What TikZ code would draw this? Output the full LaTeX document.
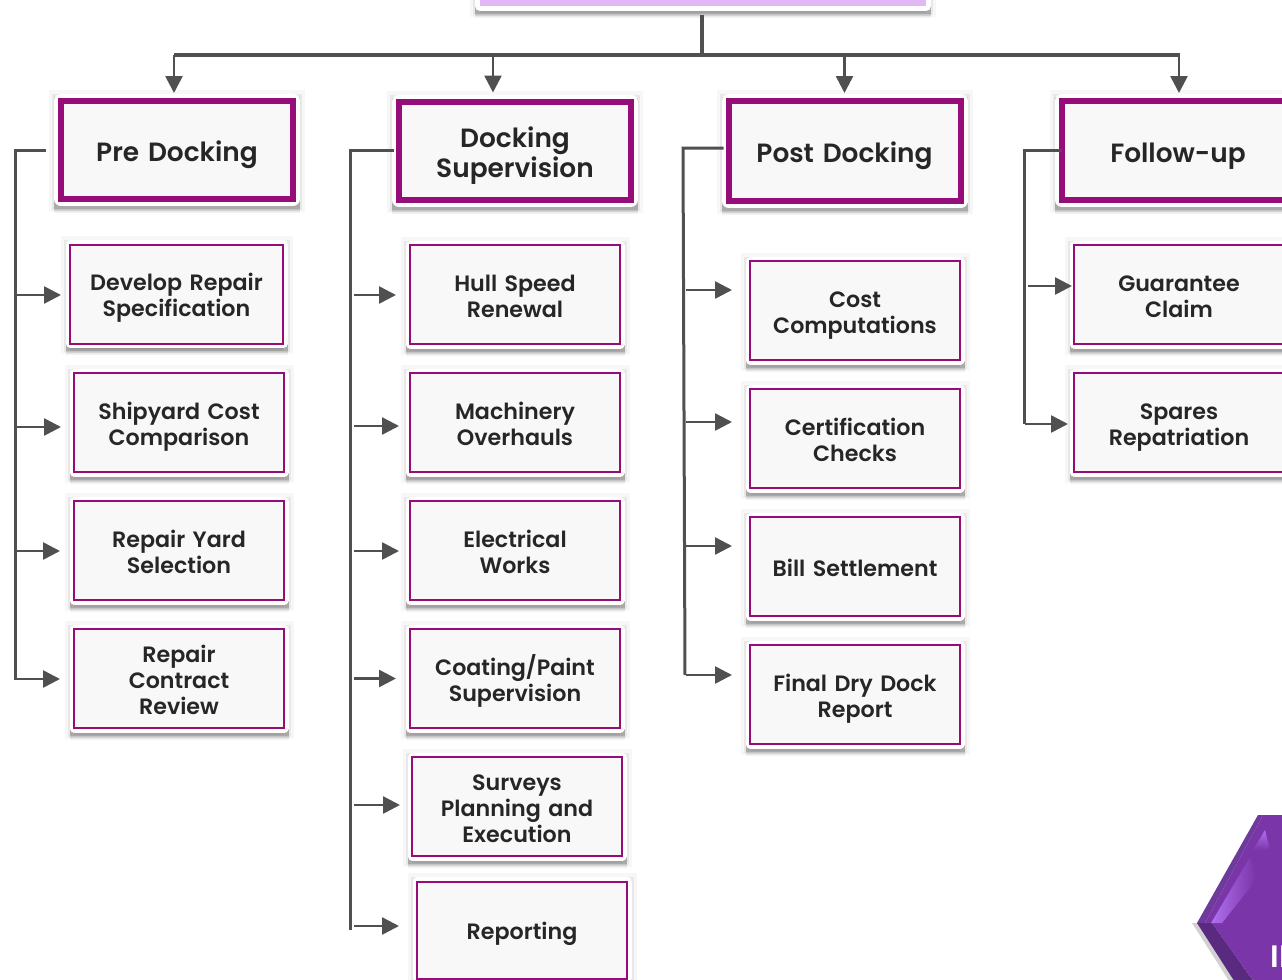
\documentclass[tikz,border=0pt]{standalone}
\usepackage{fontspec}
\setmainfont{Poppins}[BoldFont={Poppins SemiBold}]
\usetikzlibrary{arrows.meta,shadows}
\definecolor{boxpurple}{HTML}{960C78}
\definecolor{boxfill}{HTML}{F8F8F8}
\definecolor{rootfill}{HTML}{E0B8F4}
\definecolor{linegrey}{HTML}{505050}
\definecolor{gemdark}{HTML}{5A2A80}
\definecolor{gemedge}{HTML}{6E3A9C}
\definecolor{gemmain}{HTML}{7A35A8}
\definecolor{gemlight}{HTML}{B070F0}
\tikzset{
    softshadow/.style={
        general shadow={fill=black,draw=black,line width=#1+5,opacity=.03,shadow yshift=-.5pt},
        general shadow={fill=black,draw=black,line width=#1+2,opacity=.06,shadow yshift=-1pt},
        general shadow={fill=black,draw=black,line width=#1,opacity=.14,shadow yshift=-1.5pt},
        general shadow={fill=black,draw=black,line width=#1,opacity=.1,shadow yshift=-2.5pt},
        general shadow={fill=black,draw=black,line width=#1,opacity=.05,shadow yshift=-3.5pt},
        preaction={draw=white,line width=#1,line join=round}
    },
    headbox/.style={softshadow=7,draw=boxpurple,fill=boxfill,line width=3,inner sep=0pt,align=center,
        text width=110pt,text=black!85,font=\fontsize{13.2}{15}\selectfont\bfseries,
        execute at begin node=\rule{0pt}{15pt},execute at end node=\rule[-3pt]{0pt}{3pt}},
    subbox/.style={softshadow=4.5,draw=boxpurple,fill=boxfill,line width=1,inner sep=0pt,align=center,
        text width=100pt,minimum width=105,minimum height=49.5,text=black!85,font=\fontsize{11.1}{13}\selectfont\bfseries,
        execute at begin node=\rule{0pt}{12.5pt},execute at end node=\rule[-3pt]{0pt}{3pt}},
    busline/.style={draw=linegrey,line width=2},
    branch/.style={draw=linegrey,line width=1.5},
    arrowline/.style={draw=linegrey,line width=1.3,-{Triangle[length=8.5,width=8.5]}}
}
\begin{document}
\begin{tikzpicture}[x=0.5pt,y=-0.5pt]
\useasboundingbox[clip] (0,0) rectangle (1282,980);
\node[softshadow=5,fill=rootfill,minimum width=223,minimum height=30,inner sep=0pt] (root) at (703,-24) {};
% column heads
\node[headbox,minimum width=116,minimum height=49] (pre) at (177,150) {Pre Docking};
\node[headbox,minimum width=116,minimum height=49] (dock) at (515,150.5) {Docking\\Supervision};
\node[headbox,minimum width=116,minimum height=50] (post) at (844.5,151) {Post Docking};
\node[headbox,minimum width=116,minimum height=49.5] (follow) at (1178,150.5) {Follow-up};
% pre docking
\node[subbox,minimum width=106.5] (develop) at (176.5,294) {Develop Repair\\Specification};
\node[subbox] (shipyard) at (179,422.5) {Shipyard Cost\\Comparison};
\node[subbox] (yard) at (179,550.5) {Repair Yard\\Selection};
\node[subbox] (contract) at (179,678.5) {Repair\\Contract\\Review};
% docking supervision
\node[subbox] (hull) at (515,294.5) {Hull Speed\\Renewal};
\node[subbox] (machinery) at (515,422.5) {Machinery\\Overhauls};
\node[subbox] (electrical) at (515,550.5) {Electrical\\Works};
\node[subbox] (coating) at (515,678.5) {Coating/Paint\\Supervision};
\node[subbox] (surveys) at (517,806.5) {Surveys\\Planning and\\Execution};
\node[subbox,minimum height=48.5] (reporting) at (522,930) {Reporting};
% post docking
\node[subbox] (cost) at (855,310.5) {Cost\\Computations};
\node[subbox] (cert) at (855,438.5) {Certification\\Checks};
\node[subbox] (bill) at (855,566.5) {Bill Settlement};
\node[subbox] (final) at (855,694.5) {Final Dry Dock\\Report};
% follow-up
\node[subbox] (claim) at (1179,294.5) {Guarantee\\Claim};
\node[subbox] (spares) at (1179,422.5) {Spares\\Repatriation};
% top bus
\coordinate (busL) at (174,55);
\coordinate (busR) at (1180,55);
\coordinate (rootStub) at ([shift={(-1,9)}]root.south);
\draw[busline] (rootStub) -- (rootStub |- busL);
\draw[busline] (busL) -- (busR);
\draw[arrowline] (busL) -- ([shift={(-3,-5)}]pre.north);
\draw[arrowline] ([shift={(-22,0)}]dock.north |- busL) -- ([shift={(-22,-6)}]dock.north);
\draw[arrowline] (post.north |- busL) -- ([shift={(0,-5)}]post.north);
\draw[arrowline] ([shift={(1,0)}]follow.north |- busL) -- ([shift={(1,-5)}]follow.north);
% branch lines
\coordinate (spA) at (15,680);
\coordinate (spB) at (350,930);
\coordinate (spC) at (685,675);
\coordinate (spD) at (1024,424);
\draw[branch] ([xshift=-6pt]pre.west) -- (spA |- pre.west) -- (spA);
\draw[branch] ([xshift=-1pt]dock.west) -- (spB |- dock.west) -- (spB);
\draw[branch] ([shift={(-2,-3)}]post.west) -- ([shift={(-2,-3)}]spC |- post.west) -- (spC);
\draw[branch] ([xshift=1.5pt]follow.west) -- (spD |- follow.west) -- (spD);
\draw[arrowline] ([shift={(2,1)}]spA |- develop.west) -- ([shift={(-8,1)}]develop.west);
\draw[arrowline] ([shift={(2,4.5)}]spA |- shipyard.west) -- ([shift={(-12,4.5)}]shipyard.west);
\draw[arrowline] ([shift={(2,.5)}]spA |- yard.west) -- ([shift={(-13,.5)}]yard.west);
\draw[arrowline] ([shift={(2,.5)}]spA |- contract.west) -- ([shift={(-13,.5)}]contract.west);
\draw[arrowline] ([shift={(4,.5)}]spB |- hull.west) -- ([shift={(-13,.5)}]hull.west);
\draw[arrowline] ([shift={(4,3.5)}]spB |- machinery.west) -- ([shift={(-10,3.5)}]machinery.west);
\draw[arrowline] ([shift={(4,.5)}]spB |- electrical.west) -- ([shift={(-10,.5)}]electrical.west);
\draw[arrowline] ([shift={(4,0)}]spB |- coating.west) -- ([shift={(-13,0)}]coating.west);
\draw[arrowline] ([shift={(4,-1.5)}]spB |- surveys.west) -- ([shift={(-11,-1.5)}]surveys.west);
\draw[arrowline] ([shift={(4,-4)}]spB |- reporting.west) -- ([shift={(-17,-4)}]reporting.west);
\draw[arrowline] ([shift={(1,-20.5)}]spC |- cost.west) -- ([shift={(-17,-20.5)}]cost.west);
\draw[arrowline] ([shift={(1,-16.5)}]spC |- cert.west) -- ([shift={(-17,-16.5)}]cert.west);
\draw[arrowline] ([shift={(1,-20.5)}]spC |- bill.west) -- ([shift={(-17,-20.5)}]bill.west);
\draw[arrowline] ([shift={(1,-19.5)}]spC |- final.west) -- ([shift={(-17,-19.5)}]final.west);
\draw[arrowline] ([shift={(4,-8.5)}]spD |- claim.west) -- ([shift={(-1,-8.5)}]claim.west);
\draw[arrowline] ([shift={(1,1.5)}]spD |- spares.west) -- ([shift={(-5,1.5)}]spares.west);
% corner gem
\fill[black,opacity=.18] (1192,923) -- (1238,995) -- (1260,995) -- (1215,923) -- cycle;
\fill[gemedge] (1258,815) -- (1197,923) -- (1205,923) -- (1263,815) -- cycle;
\fill[gemdark] (1197,923) -- (1240,990) -- (1260,990) -- (1212,923) -- cycle;
\fill[gemmain] (1263,815) -- (1205,923) -- (1212,923) -- (1260,990) -- (1290,990) -- (1290,815) -- cycle;
\shade[top color=gemlight,bottom color=gemmain] (1265,830) -- (1253,850) -- (1270,850) -- cycle;
\shade[left color=gemlight,right color=gemmain] (1250,857) -- (1211,923) -- (1222,923) -- (1256,880) -- cycle;
\node[text=white,font=\fontsize{15.5}{17}\selectfont\bfseries,inner sep=0pt,anchor=west] (gemtext) at (1270,957) {II};
\end{tikzpicture}
\end{document}
